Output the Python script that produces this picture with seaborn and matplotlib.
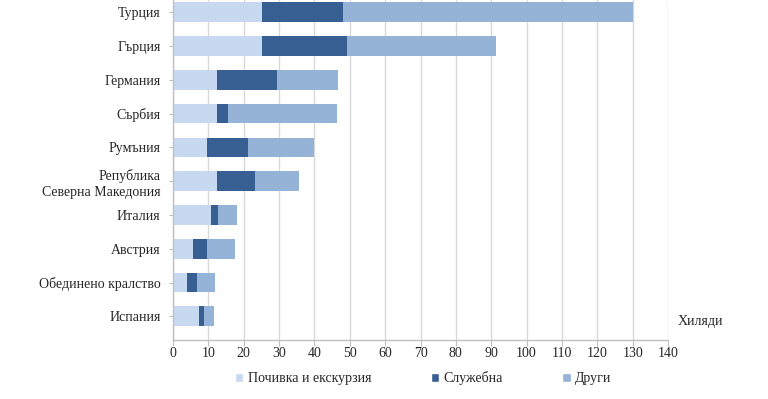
import numpy as np
import pandas as pd
import matplotlib.pyplot as plt
import seaborn as sns
from matplotlib.patches import Patch

sns.set_style("white")
plt.rcParams["font.family"] = ["Liberation Serif", "DejaVu Serif"]

# страни и стойности (хиляди пътувания) по цел
strani = [
    "Турция",
    "Гърция",
    "Германия",
    "Сърбия",
    "Румъния",
    "Република\nСеверна Македония",
    "Италия",
    "Австрия",
    "Обединено кралство",
    "Испания",
]
pochivka = [25.2, 25.2, 12.4, 12.4, 9.6, 12.5, 10.7, 5.6, 4.0, 7.3]
sluzhebna = [22.9, 23.9, 16.9, 3.1, 11.5, 10.7, 2.1, 4.0, 2.9, 1.5]
drugi = [82.0, 42.2, 17.5, 31.0, 18.9, 12.3, 5.3, 7.9, 5.1, 2.8]

seriesi = ["Почивка и екскурзия", "Служебна", "Други"]
cveta = ["#C6D9F0", "#375F92", "#95B3D7"]

df = pd.DataFrame({"strana": strani, "p": pochivka, "s": sluzhebna, "d": drugi})
df["do_s"] = df["p"] + df["s"]
df["obshto"] = df["do_s"] + df["d"]

fig = plt.figure(figsize=(7.68, 3.99), dpi=100)
ax = fig.add_axes([0.2253, 0.148, 0.6445, 0.852])

# натрупани ленти - рисуваме от най-дългата към най-късата
for kol, cvyat in [("obshto", cveta[2]), ("do_s", cveta[1]), ("p", cveta[0])]:
    sns.barplot(data=df, x=kol, y="strana", color=cvyat, width=0.58,
                linewidth=0, saturation=1, ax=ax, orient="h")

ax.set_xlim(0, 140)
ax.set_ylim(9.7, -0.36)
ax.set_xticks(np.arange(0, 141, 10))
ax.set_xlabel("")
ax.set_ylabel("")

ax.grid(axis="x", color="#D9D9D9", linewidth=1)
ax.set_axisbelow(True)
for s in ["top", "right"]:
    ax.spines[s].set_visible(False)
for s in ["left", "bottom"]:
    ax.spines[s].set_color("#BFBFBF")
    ax.spines[s].set_linewidth(1)

ax.tick_params(axis="x", length=4, color="#BFBFBF", labelsize=10,
               labelcolor="#262626", bottom=True, pad=1)
ax.tick_params(axis="y", length=3, color="#BFBFBF", labelsize=10,
               labelcolor="#262626", left=True, pad=6)
for lbl in ax.get_yticklabels():
    lbl.set_linespacing(1.3)

ax.text(1.02, 0.053, "Хиляди", transform=ax.transAxes, ha="left", va="center",
        fontsize=10, color="#262626")

ruchki = [Patch(facecolor=c, label=l) for c, l in zip(cveta, seriesi)]
fig.legend(handles=ruchki, loc="center", bbox_to_anchor=(0.551, 0.052), ncol=3,
           frameon=False, fontsize=10, handlelength=0.6, handleheight=0.6,
           handletextpad=0.3, columnspacing=4.3, labelcolor="#262626")

fig.savefig("out.png", dpi=100)
